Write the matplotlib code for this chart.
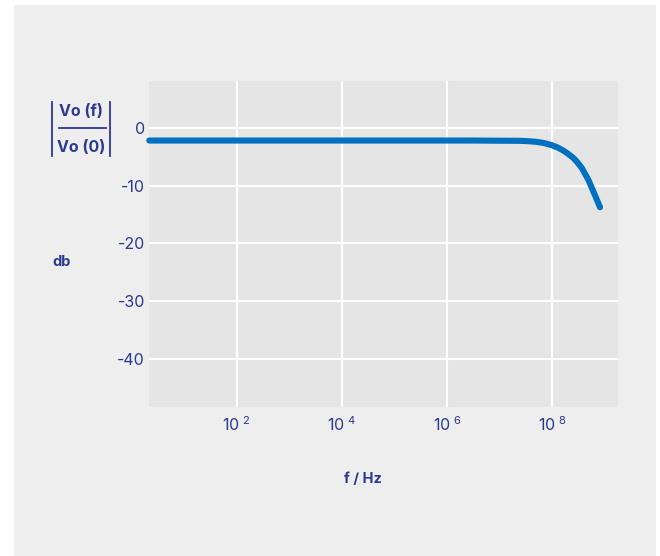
import matplotlib
matplotlib.use("Agg")
import matplotlib.pyplot as plt
from matplotlib.patches import Rectangle
from matplotlib.lines import Line2D

# Data
freq_log = [0.338, 2.0, 4.0, 6.0, 6.435, 7.386, 7.55, 7.703, 7.85, 7.989, 8.1, 8.209,
            8.3, 8.399, 8.48, 8.559, 8.684, 8.793, 8.907]
gain_db = [-2.20, -2.20, -2.20, -2.20, -2.20, -2.25, -2.32, -2.43, -2.65, -3.00, -3.40, -3.93,
           -4.50, -5.20, -6.00, -6.93, -8.96, -11.27, -13.74]
freq = [10 ** v for v in freq_log]

xtick_exps = [2, 4, 6, 8]
ytick_vals = [0, -10, -20, -30, -40]
ytick_labels = ["0", "-10", "-20", "-30", "-40"]

navy = "#2b3990"
line_color = "#0070c0"
font = ["Inter", "DejaVu Sans"]
plt.rcParams["font.family"] = font

W, H = 660, 556
fig = plt.figure(figsize=(6.6, 5.56), dpi=100)
fig.patch.set_facecolor("white")
fig.patches.append(Rectangle((14 / W, 0), (656 - 14) / W, (556 - 5) / H,
                             transform=fig.transFigure, facecolor="#eeeeee",
                             edgecolor="none", zorder=-10))

left, right, top, bottom = 149, 618, 81, 407
ax = fig.add_axes([left / W, 1 - bottom / H, (right - left) / W, (bottom - top) / H])
ax.set_facecolor("#e5e5e5")
for s in ax.spines.values():
    s.set_visible(False)

ax.plot(freq, gain_db, color=line_color, lw=4.4, solid_capstyle="round",
        solid_joinstyle="round", zorder=3, clip_on=False)
ax.set_xscale("log")
ax.set_xlim(10 ** 0.333, 10 ** 9.249)
ax.set_ylim(-48.3, 8.1)
ax.minorticks_off()

ax.set_xticks([10 ** e for e in xtick_exps])
ax.set_xticklabels([r"$\mathregular{10^{\ %d}}$" % e for e in xtick_exps])
ax.set_yticks(ytick_vals)
ax.set_yticklabels(ytick_labels)
ax.tick_params(axis="both", length=0, colors=navy, labelsize=11.5)
ax.tick_params(axis="x", pad=6)
ax.tick_params(axis="y", pad=3)
ax.grid(True, color="white", lw=1.6)
ax.set_axisbelow(True)

# Axis labels
def px(x, y):
    return x / W, 1 - y / H

fig.text(*px(363, 479), "f / Hz", ha="center", va="center", color=navy,
         fontsize=10.5, fontweight="bold")
fig.text(*px(62, 262), "db", ha="center", va="center", color=navy,
         fontsize=10.5, fontweight="bold")
fig.text(*px(81, 112), "Vo (f)", ha="center", va="center", color=navy,
         fontsize=11.5, fontweight="bold")
fig.text(*px(81, 148), "Vo (0)", ha="center", va="center", color=navy,
         fontsize=11.5, fontweight="bold")
for xs, ys in [([59, 106], [127.7, 127.7]), ([52.3, 52.3], [101.7, 155.7]),
               ([110.3, 110.3], [101.7, 155.7])]:
    fig.lines.append(Line2D([x / W for x in xs], [1 - y / H for y in ys],
                            transform=fig.transFigure, color=navy, lw=1.3))

fig.savefig("out.png", dpi=100, facecolor=fig.get_facecolor())
